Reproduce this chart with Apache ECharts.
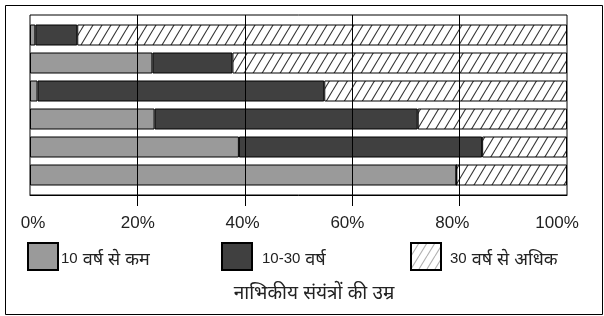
<!DOCTYPE html>
<html>
<head>
<meta charset="utf-8">
<script src="https://cdn.jsdelivr.net/npm/echarts@6/dist/echarts.min.js"></script>
<style>
html,body{margin:0;padding:0;background:#fff;}
#c{width:604px;height:316px;}
</style>
</head>
<body>
<div id="c"></div>
<script>
// ---- data ----
const rows = ['1', '2', '3', '4', '5', '6'];            // bars, top to bottom (unlabelled)
const seriesNames = ['10 वर्ष से कम', '10-30 वर्ष', '30 वर्ष से अधिक'];
const under10 = [1.0, 22.8, 1.4, 23.2, 38.9, 79.4];
const from10to30 = [7.8, 14.9, 53.4, 49.0, 45.3, 0];
const over30 = [91.2, 62.3, 45.2, 27.8, 15.8, 20.6];
const tickValues = [0, 20, 40, 60, 80, 100];
const innerTicks = [20, 40, 60, 80];
const chartTitle = 'नाभिकीय संयंत्रों की उम्र';

function hatch(w, h, color, lw) {
  const cv = document.createElement('canvas');
  cv.width = w; cv.height = h;
  const g = cv.getContext('2d');
  g.fillStyle = '#fff';
  g.fillRect(0, 0, w, h);
  g.strokeStyle = color;
  g.lineWidth = lw;
  for (let k = -1; k <= 1; k++) {
    g.beginPath();
    g.moveTo(k * w, h);
    g.lineTo(k * w + w, 0);
    g.stroke();
  }
  return cv;
}
const barHatch = { image: hatch(9, 15, '#333', 1.1), repeat: 'repeat' };
const legHatch = { image: hatch(8, 13, '#b0b0b0', 1.1), repeat: 'repeat' };

const font = "'Liberation Sans', Arial, 'Noto Sans', sans-serif";
const colors = ['#9a9a9a', '#404040', barHatch];

// wrap digit runs and Devanagari runs in different rich styles
function richLabel(s) {
  return s.split(/([0-9\-]+)/).filter(t => t.length).map(t =>
    /^[0-9\-]+$/.test(t) ? '{d|' + t + '}' : '{h|' + t + '}').join('');
}

const chart = echarts.init(document.getElementById('c'), null, { renderer: 'canvas' });

function legendFor(i, left, pad, iconColor) {
  return {
    data: [{ name: seriesNames[i], itemStyle: iconColor ? { color: iconColor } : undefined }],
    left: left, top: 242, padding: 0,
    icon: 'rect',
    itemWidth: 30, itemHeight: 27,
    selectedMode: false,
    formatter: richLabel,
    textStyle: {
      fontFamily: font, fontSize: 15, color: '#222', padding: [8, 0, 0, pad],
      rich: {
        d: { fontFamily: font, fontSize: 15, color: '#222', padding: [0, 0, 3, 0] },
        h: { fontFamily: font, fontSize: 18, color: '#222' }
      }
    }
  };
}

chart.setOption({
  animation: false,
  backgroundColor: '#fff',
  title: {
    text: chartTitle,
    left: 314, top: 284, textAlign: 'center', padding: 0,
    textStyle: { fontFamily: font, fontSize: 19, fontWeight: 'normal', color: '#222' }
  },
  legend: [
    legendFor(0, 27, -2),
    legendFor(1, 221, 5),
    legendFor(2, 410, 4, legHatch)
  ],
  grid: [
    { left: 30, right: 37, top: 21, height: 168 },
    { left: 30, right: 37, top: 15, height: 180, show: true, borderColor: '#000', borderWidth: 1, backgroundColor: 'transparent', z: 10 }
  ],
  xAxis: [
    { gridIndex: 0, type: 'value', min: 0, max: 100, show: false },
    {
      gridIndex: 1, type: 'value', min: 0, max: 100, interval: 20, z: 10,
      axisLine: { show: true, lineStyle: { color: '#000', width: 1 } },
      axisTick: { show: true, customValues: innerTicks, length: 11, lineStyle: { color: '#000', width: 1 } },
      axisLabel: { show: false },
      splitLine: { show: true, lineStyle: { color: '#000', width: 1 } }
    },
    {
      gridIndex: 1, type: 'value', min: -0.57, max: 101.9, position: 'bottom', z: 10,
      axisLine: { show: false }, axisTick: { show: false }, splitLine: { show: false },
      axisLabel: {
        show: true, customValues: tickValues, margin: 20,
        formatter: '{value}%', fontFamily: font, fontSize: 17, color: '#222'
      }
    }
  ],
  yAxis: [
    { gridIndex: 0, type: 'category', data: rows, inverse: true, show: false },
    { gridIndex: 1, type: 'value', show: false }
  ],
  series: [under10, from10to30, over30].map((d, i) => ({
    name: seriesNames[i],
    type: 'bar',
    stack: 'age',
    xAxisIndex: 0, yAxisIndex: 0,
    barWidth: 21,
    data: d,
    itemStyle: { color: colors[i], borderColor: '#000', borderWidth: 1 }
  })),
  graphic: [{
    type: 'rect', left: 3, top: 3, z: 100, silent: true,
    shape: { width: 597, height: 309 },
    style: { fill: 'none', stroke: '#000', lineWidth: 1 }
  }]
});
</script>
</body>
</html>
